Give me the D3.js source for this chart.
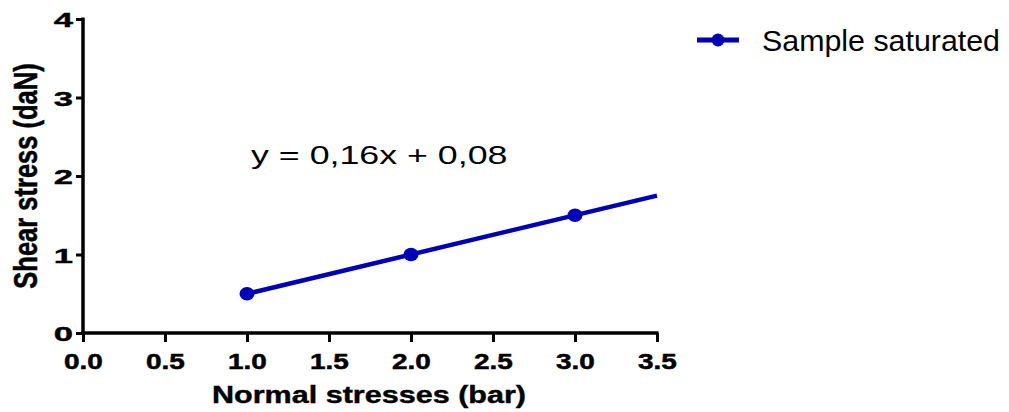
<!DOCTYPE html>
<html>
<head>
<meta charset="utf-8">
<script src="https://cdn.jsdelivr.net/npm/d3@7"></script>
<style>
  body { margin: 0; background: #fff; }
  svg { display: block; }
  svg text { font-family: "Liberation Sans", Arial, sans-serif; }
</style>
</head>
<body>
<div id="chart"></div>
<script>
// measured points
var normalStress = [1.0, 2.0, 3.0];
var shearStress = [0.5, 1.0, 1.5];
// fitted line as drawn (end points)
var fitX = [1.0, 3.5];
var fitY = [0.5, 1.75];
var xTicks = [0, 0.5, 1, 1.5, 2, 2.5, 3, 3.5];
var yTicks = [0, 1, 2, 3, 4];
var seriesName = "Sample saturated";
var equation = "y = 0,16x + 0,08";

var W = 1009, H = 412;
var blue = "#0000b8";
var stretch = 1.3; // the original picture is widened horizontally

var svg = d3.select("#chart").append("svg")
    .attr("width", W)
    .attr("height", H);

var x = d3.scaleLinear().domain([0, 3.5]).range([83, 657]);
var y = d3.scaleLinear().domain([0, 4]).range([333, 19]);

// x axis
var xAxis = d3.axisBottom(x).tickValues(xTicks).tickSize(9).tickSizeOuter(0)
    .tickFormat(d3.format(".1f"));
var gx = svg.append("g")
    .attr("transform", "translate(0," + y(0) + ")")
    .call(xAxis);
gx.attr("font-family", null);
gx.select(".domain").attr("stroke-width", 3.5).attr("d", "M" + (x(0) - 1.5) + ",0H" + (x(3.5) + 1.5));
gx.selectAll(".tick line").attr("stroke-width", 3);
gx.selectAll(".tick text")
    .attr("y", 0).attr("dy", 0)
    .attr("transform", "translate(0,35.5) scale(" + stretch + ",1)")
    .attr("stroke", "#000").attr("stroke-width", 0.5)
    .style("font-size", "21.5px").style("font-weight", "bold").attr("fill", "#000");

// y axis
var yAxis = d3.axisLeft(y).tickValues(yTicks).tickSize(7).tickSizeOuter(0)
    .tickFormat(d3.format("d"));
var gy = svg.append("g")
    .attr("transform", "translate(" + x(0) + ",0)")
    .call(yAxis);
gy.attr("font-family", null);
gy.select(".domain").attr("stroke-width", 3.5).attr("d", "M0," + (y(0) + 1.5) + "V" + (y(4) - 1.5));
gy.selectAll(".tick line").attr("stroke-width", 3);
gy.selectAll(".tick text")
    .attr("x", 0).attr("dy", 0)
    .attr("transform", "translate(-10,7.5) scale(1.65,1)")
    .attr("stroke", "#000").attr("stroke-width", 0.4)
    .style("font-size", "21px").style("font-weight", "bold").attr("fill", "#000");

// axis titles
svg.append("text")
    .attr("transform", "translate(369,403) scale(" + stretch + ",1)")
    .attr("text-anchor", "middle")
    .attr("stroke", "#000").attr("stroke-width", 0.4)
    .style("font-size", "23.5px").style("font-weight", "bold")
    .text("Normal stresses (bar)");

svg.append("text")
    .attr("transform", "translate(37,176) rotate(-90) scale(1," + stretch + ")")
    .attr("text-anchor", "middle")
    .attr("stroke", "#000").attr("stroke-width", 0.4)
    .style("font-size", "25.5px").style("font-weight", "bold")
    .text("Shear stress (daN)");

// fit line
var line = d3.line()
    .x(function (d) { return x(d[0]); })
    .y(function (d) { return y(d[1]); });

svg.append("path")
    .datum(d3.zip(fitX, fitY))
    .attr("d", line)
    .attr("fill", "none")
    .attr("stroke", blue)
    .attr("stroke-width", 4.5);

svg.selectAll(".pt").data(d3.zip(normalStress, shearStress))
    .enter().append("ellipse")
    .attr("class", "pt")
    .attr("cx", function (d) { return x(d[0]); })
    .attr("cy", function (d) { return y(d[1]); })
    .attr("rx", 7.5).attr("ry", 6.8)
    .attr("fill", blue);

// equation
svg.append("text")
    .attr("transform", "translate(251,164) scale(1.35,1)")
    .style("font-size", "26.5px")
    .text(equation);

// legend
svg.append("line")
    .attr("x1", 697).attr("x2", 739).attr("y1", 40).attr("y2", 40)
    .attr("stroke", blue).attr("stroke-width", 5);
svg.append("circle")
    .attr("cx", 718).attr("cy", 40).attr("r", 6.5)
    .attr("fill", blue);
svg.append("text")
    .attr("x", 762).attr("y", 51)
    .attr("textLength", 238).attr("lengthAdjust", "spacingAndGlyphs")
    .style("font-size", "30px")
    .text(seriesName);
</script>
</body>
</html>
